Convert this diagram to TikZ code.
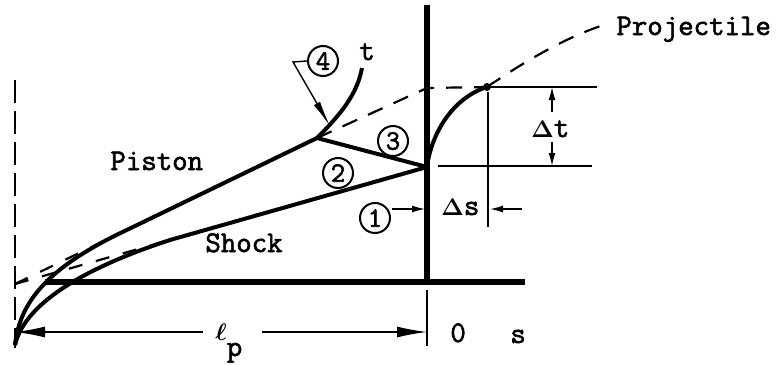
\documentclass[tikz,border=0pt]{standalone}
\usepackage{amsmath}
\usepackage[no-math]{fontspec}
\newfontfamily\twfont[FakeBold=2]{Latin Modern Mono}
\usetikzlibrary{arrows.meta}
\begin{document}
\begin{tikzpicture}[x=0.5pt,y=-0.5pt,
  lbl/.style={font=\fontsize{15}{18}\selectfont\twfont, inner sep=0pt, anchor=base west},
  circ/.style={draw, circle, line width=1pt, minimum size=15pt, inner sep=0pt, font=\fontsize{14}{16}\selectfont\twfont},
  heavy/.style={line width=2.8pt},
  med/.style={line width=2pt},
  thinl/.style={line width=0.7pt},
  dsh/.style={line width=1.1pt, dash pattern=on 8pt off 6pt},
  dimarrow/.style={-{Latex[length=6.5pt,width=3.5pt]}, line width=0.7pt},
  longarrow/.style={-{Latex[length=15pt,width=5.5pt]}, line width=0.7pt},
  dlt/.style={font=\fontsize{13}{15}\selectfont},
]
\useasboundingbox (0,0) rectangle (776,364);

% key points
\coordinate (O) at (15,345);
\coordinate (P0) at (15,284);
\coordinate (A) at (317,138);
\coordinate (B) at (427,167);
\coordinate (Pk) at (128,229.4);
\coordinate (Sk) at (170,240);
\coordinate (D) at (487,87);
\coordinate (T) at (362,68);

% left dashed axis
\draw[line width=1.3pt, dash pattern=on 11.5pt off 4pt] (15,80) coordinate (ax1) -- (15,348) coordinate (ax2);

% projectile base (s = 0) and ground line
\draw[heavy] (427,5) coordinate (V1) -- (427,282) coordinate (V2);
\draw[heavy] (45,282) coordinate (H1) -- (525,282) coordinate (H2);
\draw[thinl] (427,290) coordinate (tk1) -- (427,346) coordinate (tk2);

% piston and shock paths
\draw[med] (O) .. controls (20,300) and (50,266) .. (Pk) -- (A);
\draw[med] (O) .. controls (24,306) and (78,270) .. (Sk) -- (B);
\draw[line width=1.1pt, dash pattern=on 7pt off 7pt] (P0) -- (Pk);
\draw[line width=1.1pt, dash pattern=on 7pt off 7pt] (P0) -- (Sk);

% wave 3 and piston after reflection
\draw[med] (A) -- (B);
\draw[med] (A) .. controls (340,115) and (357,95) .. (T);

% projectile path
\draw[med] (B) .. controls (432,130) and (455,97) .. (D);
\node[circle, fill, inner sep=0pt, minimum size=4pt] (dot) at (D) {};
\draw[dsh] (A) -- (427,88) coordinate (V3) -- (dot.center);
\draw[dsh] (dot.center) .. controls (530,58) and (570,35) .. (610,23) coordinate (pe);

% delta t dimension
\draw[thinl] (dot.center) -- (597,87) coordinate (h1);
\draw[thinl] (438,166) coordinate (h2a) -- (592,166) coordinate (h2b);
\draw[thinl] (488,92) coordinate (v1) -- (488,227) coordinate (v2);
\draw[dimarrow] (552,112) coordinate (dt1) -- (552,87) coordinate (dt2);
\draw[dimarrow] (552,142) coordinate (dt3) -- (552,166) coordinate (dt4);
\node[lbl] (dtl) at (531,137) {{\fontsize{13}{15}\selectfont$\boldsymbol{\Delta}$}t};

% delta s dimension
\draw[dimarrow] (392,209) coordinate (ds1) -- (425,209) coordinate (ds2);
\draw[dimarrow] (522,209) coordinate (ds3) -- (490,209) coordinate (ds4);
\node[lbl] (dsl) at (441,215) {{\fontsize{13}{15}\selectfont$\boldsymbol{\Delta}$}s};

% l_p dimension
\draw[longarrow] (203,332) coordinate (lp1) -- (15,332) coordinate (lp2);
\draw[longarrow] (262,332) coordinate (lp3) -- (427,332) coordinate (lp4);
\node[lbl] (lp) at (215,340) {{\fontsize{13}{15}\selectfont$\boldsymbol{\ell}$}\raisebox{-8pt}{p}};

% circled region numbers
\node[circ] (c1) at (375,218) {1};
\node[circ] (c2) at (338,173) {2};
\node[circ] (c3) at (393,141) {3};
\node[circ] (c4) at (323,61) {4};
\coordinate (K) at (293,62);
\coordinate (K2) at (330,126);
\draw[thinl, -{Latex[length=13pt,width=3.5pt]}] (c4.west) -- (K) -- (K2);

% labels
\node[lbl] (piston) at (110,170) {Piston};
\node[lbl] (shock) at (205,252) {Shock};
\node[lbl] (proj) at (616,35) {Projectile};
\node[lbl] (tl) at (359,60) {t};
\node[lbl] (zero) at (450,342) {0};
\node[lbl] (sl) at (510,343) {s};
\end{tikzpicture}
\end{document}
